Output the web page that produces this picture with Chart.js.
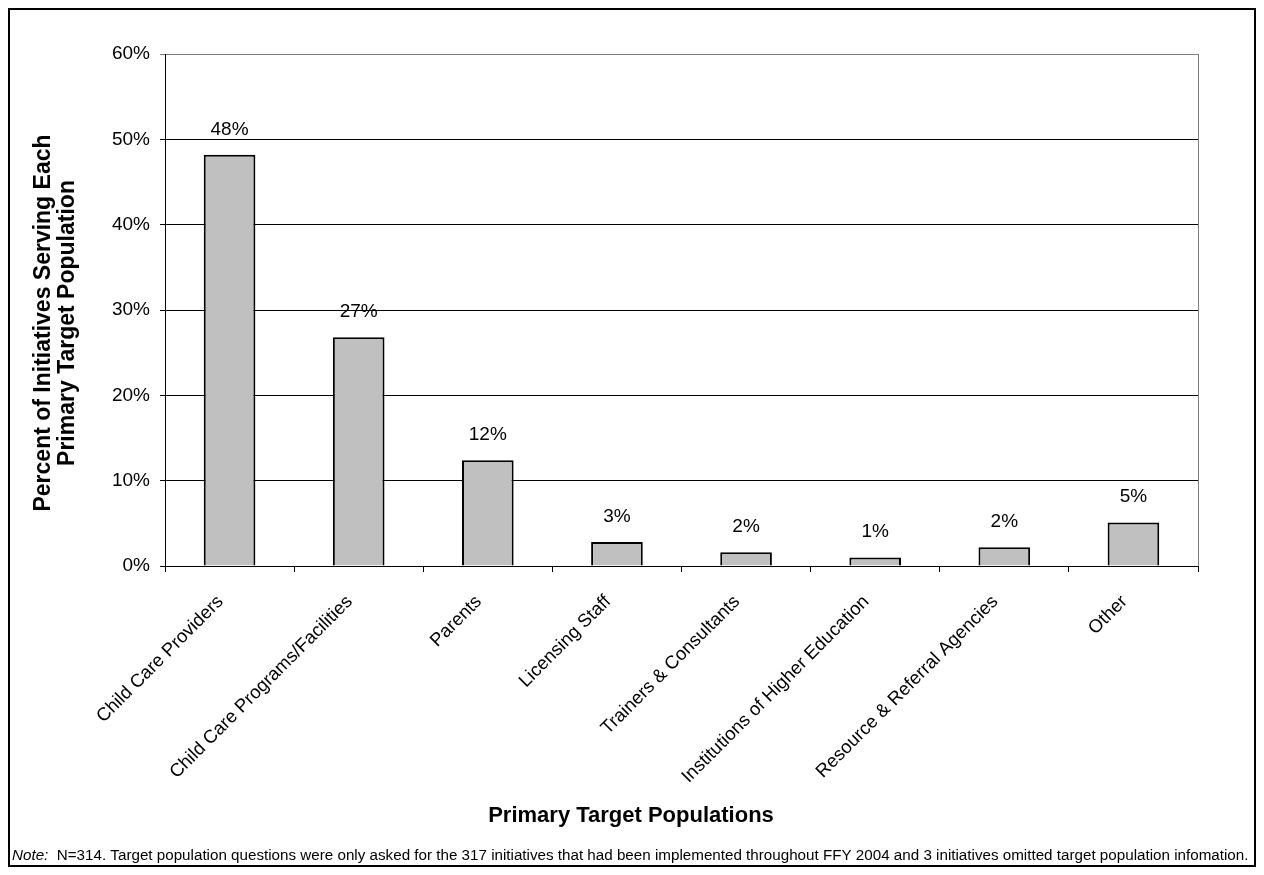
<!DOCTYPE html>
<html>
<head>
<meta charset="utf-8">
<script src="https://cdn.jsdelivr.net/npm/chart.js@4/dist/chart.umd.min.js"></script>
<style>
  html, body { margin: 0; padding: 0; background: #fff; }
  #wrap { width: 1264px; height: 875px; position: relative; }
</style>
</head>
<body>
<div id="wrap"><canvas id="chart" width="1264" height="875"></canvas></div>
<script>
// categories and values
const categories = [
    'Child Care Providers',
    'Child Care Programs/Facilities',
    'Parents',
    'Licensing Staff',
    'Trainers & Consultants',
    'Institutions of Higher Education',
    'Resource & Referral Agencies',
    'Other'
];
const percentValues = [48.2, 26.8, 12.4, 2.8, 1.6, 1.0, 2.2, 5.1];
const percentLabels = ['48%', '27%', '12%', '3%', '2%', '1%', '2%', '5%'];
const yTicks = [0, 10, 20, 30, 40, 50, 60];

const yTitleLines = ['Percent of Initiatives Serving Each', 'Primary Target Population'];
const xTitle = 'Primary Target Populations';
const noteLead = 'Note:';
const noteText = '  N=314. Target population questions were only asked for the 317 initiatives that had been implemented throughout FFY 2004 and 3 initiatives omitted target population infomation.';

const FONT = "'Liberation Sans', Arial, sans-serif";

// values above the bars, frame, titles and note
const decorations = {
    id: 'decorations',
    afterDatasetsDraw(chart) {
        const ctx = chart.ctx;
        const area = chart.chartArea;
        ctx.save();

        // grey plot border on the right
        ctx.strokeStyle = '#808080';
        ctx.lineWidth = 1;
        ctx.beginPath();
        ctx.moveTo(area.right + 0.5, area.top);
        ctx.lineTo(area.right + 0.5, area.bottom);
        ctx.stroke();

        // bar labels
        ctx.fillStyle = '#000';
        ctx.font = '19px ' + FONT;
        ctx.textAlign = 'center';
        ctx.textBaseline = 'alphabetic';
        chart.getDatasetMeta(0).data.forEach((bar, i) => {
            ctx.fillText(percentLabels[i], bar.x, bar.y - 20);
        });
        ctx.restore();
    },
    afterDraw(chart) {
        const ctx = chart.ctx;
        ctx.save();
        ctx.fillStyle = '#000';

        // y title, two lines
        ctx.font = 'bold 23px ' + FONT;
        ctx.textAlign = 'center';
        ctx.textBaseline = 'middle';
        ctx.translate(56, 323);
        ctx.rotate(-Math.PI / 2);
        ctx.fillText(yTitleLines[0], 0, -12);
        ctx.fillText(yTitleLines[1], 0, 12);
        ctx.setTransform(1, 0, 0, 1, 0, 0);

        // x title
        ctx.font = 'bold 22px ' + FONT;
        ctx.fillText(xTitle, 631, 816);

        // note
        ctx.textAlign = 'left';
        ctx.font = 'italic 15.2px ' + FONT;
        ctx.fillText(noteLead, 12, 856);
        const w = ctx.measureText(noteLead).width;
        ctx.font = '15.2px ' + FONT;
        ctx.fillText(noteText, 12 + w, 856);

        // outer frame
        ctx.strokeStyle = '#000';
        ctx.lineWidth = 2;
        ctx.strokeRect(9, 9, 1246, 857);
        ctx.restore();
    }
};

const ctx = document.getElementById('chart').getContext('2d');
const chart = new Chart(ctx, {
    type: 'bar',
    data: {
        labels: categories,
        datasets: [{
            data: percentValues,
            backgroundColor: '#c0c0c0',
            borderColor: '#000',
            borderWidth: 2,
            categoryPercentage: 0.8,
            barPercentage: 0.5
        }]
    },
    options: {
        responsive: false,
        animation: false,
        layout: { padding: { left: 0, top: 54, right: 66, bottom: 0 } },
        plugins: {
            legend: { display: false },
            tooltip: { enabled: false }
        },
        scales: {
            x: {
                grid: {
                    offset: true,
                    drawOnChartArea: false,
                    drawTicks: true,
                    tickLength: 6,
                    color: '#000'
                },
                border: { color: '#000', width: 1 },
                ticks: {
                    color: '#000',
                    font: { family: FONT, size: 18.5 },
                    minRotation: 45,
                    maxRotation: 45,
                    padding: 19,
                    labelOffset: -9,
                    autoSkip: false
                },
                afterFit: (s) => { s.height = 875 - 566; }
            },
            y: {
                min: 0,
                max: 60,
                afterBuildTicks: (s) => { s.ticks = yTicks.map(v => ({ value: v })); },
                grid: {
                    color: (c) => c.tick && c.tick.value === 60 ? '#808080' : '#000',
                    lineWidth: 1,
                    tickLength: 5
                },
                border: { color: '#000', width: 1 },
                ticks: {
                    color: '#000',
                    font: { family: FONT, size: 19 },
                    padding: 10,
                    callback: (v) => v + '%'
                },
                afterFit: (s) => { s.width = 165; }
            }
        }
    },
    plugins: [decorations]
});
</script>
</body>
</html>
